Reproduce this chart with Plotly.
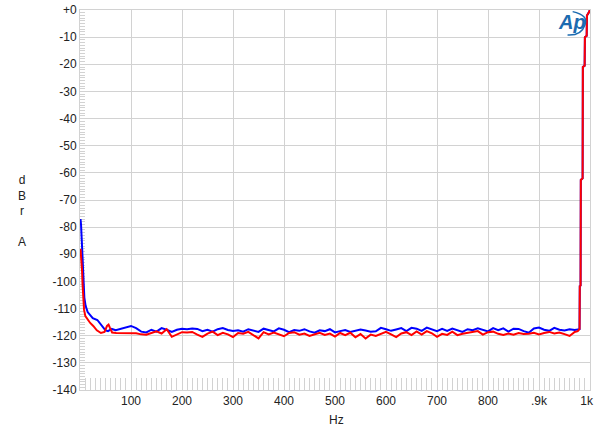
import plotly.graph_objects as go

# --- data ---
blue_head_hz = [1, 2, 3.5, 5, 6.5, 8.5, 11, 15, 20, 25, 34, 40, 45, 50, 55, 62, 70]
blue_head_db = [-77, -79, -85, -91, -99.5, -106, -109, -111.3, -112.4, -113.5, -114.2, -115.7, -117.2, -118.0, -118.3, -117.5, -118.0]

red_head_hz = [1, 2, 3, 4, 5, 6, 8, 10.5, 15, 20, 26, 33, 41, 48, 53, 56, 59, 63, 71]
red_head_db = [-88, -90.3, -93, -96, -101, -107, -110.5, -112.8, -114.2, -115.3, -116.4, -118.0, -119.0, -118.6, -116.4, -115.9, -117.2, -118.8, -119.0]

body_hz = list(range(80, 980, 10))
blue_body_db = [
    -117.5, -117.0, -116.4, -117.2, -118.5, -118.8, -117.8, -118.5, -117.2, -117.8,
    -118.6, -117.8, -117.4, -117.6, -117.3, -117.5, -118.3, -117.8, -118.5, -117.6,
    -117.2, -117.9, -118.3, -118.0, -118.5, -117.6, -118.2, -118.6, -117.4, -118.0,
    -118.4, -117.3, -117.8, -118.7, -117.9, -118.2, -117.6, -118.4, -118.9, -118.0,
    -118.3, -117.6, -118.8, -118.3, -117.9, -118.6, -118.2, -117.7, -118.1, -118.5,
    -118.4, -117.1, -117.6, -118.2, -117.7, -117.2, -118.3, -117.1, -117.4, -118.2,
    -117.0, -117.8, -118.3, -117.5, -118.2, -117.4, -117.9, -118.6, -117.6, -118.0,
    -117.3, -117.9, -118.4, -117.2, -118.0, -117.3, -118.5, -117.4, -117.5, -118.3,
    -118.9, -117.3, -117.0, -117.8, -118.2, -117.1, -117.8, -118.1, -117.6, -117.9,
]
red_body_db = [
    -119.0, -119.0, -118.9, -119.1, -119.5, -119.6, -119.0, -118.4, -119.2, -117.6,
    -120.4, -119.4, -118.7, -118.8, -118.6, -119.6, -120.4, -119.2, -118.5, -119.8,
    -118.9, -119.5, -120.5, -119.0, -119.3, -118.6, -119.8, -121.0, -118.7, -119.5,
    -118.8, -119.4, -120.2, -119.0, -118.7, -119.6, -119.2, -120.1, -119.5, -118.9,
    -119.7, -119.2, -120.3, -119.0, -119.8, -118.9, -120.6, -119.4, -121.0, -119.6,
    -120.1, -119.3, -118.6, -119.5, -120.5, -119.2, -118.7, -119.8, -118.4, -119.6,
    -118.3, -119.1, -120.4, -119.3, -119.7, -118.5, -119.8, -119.3, -119.0, -118.6,
    -118.3, -119.6, -118.7, -118.5, -119.3, -119.7, -119.2, -119.6, -119.0, -119.4,
    -119.3, -118.9, -119.5, -119.0, -118.6, -119.2, -118.8, -119.4, -120.1, -118.6,
]

blue_tail_hz = [975, 979.5, 980, 981.5, 982, 985.5, 986, 989.5, 990, 993.5, 994, 999, 1000]
blue_tail_db = [-117.8, -117.6, -101.7, -101.5, -62.6, -62, -21, -20.5, -10, -9.5, -2, -0.5, 3]

red_tail_hz = [976, 979.5, 980, 981.5, 982, 985.5, 986, 989.5, 990, 993.5, 994, 999, 1000]
red_tail_db = [-118.3, -117.5, -101.7, -101.5, -62.6, -62, -21, -20.5, -10, -9.5, -2, -0.5, 0.5]

y_ticks = list(range(-140, 1, 10))
y_tick_text = ["+0" if v == 0 else str(v) for v in y_ticks]
x_ticks = [100, 200, 300, 400, 500, 600, 700, 800, 900, 1000]
x_tick_text = ["100", "200", "300", "400", "500", "600", "700", "800", ".9k",
               "1k\u00a0\u00a0"]

blue_x = blue_head_hz + body_hz + blue_tail_hz
blue_y = blue_head_db + blue_body_db + blue_tail_db
red_x = red_head_hz + body_hz + red_tail_hz
red_y = red_head_db + red_body_db + red_tail_db

fig = go.Figure()
fig.add_trace(go.Scatter(x=blue_x, y=blue_y, mode="lines",
                         line=dict(color="#0000ff", width=2), showlegend=False))
fig.add_trace(go.Scatter(x=red_x, y=red_y, mode="lines",
                         line=dict(color="#ff0000", width=2), showlegend=False))

grid = "#d2d2d2"
font = dict(family="Liberation Sans, Arial, sans-serif", size=12, color="#222222")

fig.update_layout(
    width=600, height=433,
    margin=dict(l=80, r=10, t=10, b=43, autoexpand=False),
    paper_bgcolor="white", plot_bgcolor="white",
    font=font,
    xaxis=dict(range=[0, 1000], tickvals=x_ticks, ticktext=x_tick_text,
               automargin=False, ticklabeloverflow="allow", layer="below traces",
               showgrid=True, gridcolor=grid, gridwidth=1,
               showline=True, linecolor=grid, mirror=True,
               ticks="inside", ticklen=12, tickcolor=grid,
               minor=dict(dtick=10, ticks="inside", ticklen=12, tickcolor=grid, showgrid=False),
               zeroline=False, tickfont=font),
    yaxis=dict(range=[-140, 0], tickvals=y_ticks, ticktext=y_tick_text,
               automargin=False, ticklabeloverflow="allow", layer="below traces",
               showgrid=True, gridcolor=grid, gridwidth=1,
               showline=True, linecolor=grid, mirror=True,
               ticks="inside", ticklen=5, tickcolor=grid,
               minor=dict(dtick=1, ticks="inside", ticklen=5, tickcolor=grid, showgrid=False),
               zeroline=False, tickfont=font),
)

fig.add_annotation(text="d<br>B<br>r<br> <br>A", xref="paper", yref="paper",
                   x=-0.114, y=0.47, xanchor="center", yanchor="middle",
                   showarrow=False, font=font, align="center")
fig.add_annotation(text="Hz", xref="paper", yref="paper",
                   x=0.502, y=-0.079, xanchor="center", yanchor="middle",
                   showarrow=False, font=font)
# Ap logo
fig.add_annotation(text="<b><i>Ap</i></b>", xref="x", yref="y",
                   x=964, y=-4.3, xanchor="center", yanchor="middle",
                   showarrow=False, font=dict(family="Liberation Sans", size=20, color="#1c6bb0"))
fig.add_shape(type="path", xref="x", yref="y",
              path="M 966,-0.6 Q 998,-2 990,-5.5 Q 983,-9.5 956,-9.2",
              line=dict(color="#1c6bb0", width=1.5))

fig.write_html("out.html", config={"displayModeBar": False},
               post_script="document.body.style.margin='0';document.body.style.padding='0';")
